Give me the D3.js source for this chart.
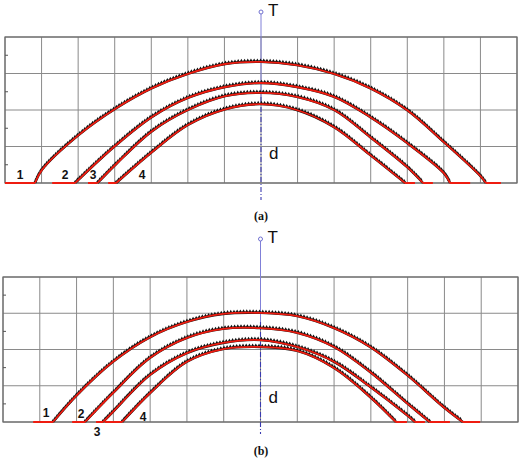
<!DOCTYPE html>
<html><head><meta charset="utf-8">
<script src="https://cdn.jsdelivr.net/npm/d3@7"></script>
<style>body{margin:0;background:#fff}</style></head>
<body>
<svg id="c" width="520" height="458"></svg>
<script>
// ---- data (x in grid units, centre at 0; y in grid units) ----
const xGrid = [-7,-6,-5,-4,-3,-2,-1,0,1,2,3,4,5,6,7];
const yGrid = [0,1,2,3,4];
const yMinor = [0.5,1.5,2.5,3.5];
const curveLabels = ["1","2","3","4"];
const panelNames = ["(a)","(b)"];

// panel (a) curves
const a1 = [[-6.18,0],[-5.99,0.36],[-4.98,1.32],[-3.96,2.05],[-2.98,2.60],[-2.0,2.99],[-0.98,3.26],[0,3.32],[0.98,3.23],[2.0,2.99],[2.98,2.60],[3.99,2.00],[5.0,1.12],[5.99,0.20],[6.15,0]];
const a2 = [[-5.08,0],[-4.98,0.10],[-3.96,1.04],[-2.98,1.81],[-2.0,2.33],[-0.98,2.63],[0,2.74],[0.98,2.63],[2.0,2.36],[2.98,1.81],[3.99,1.10],[5.0,0.27],[5.17,0]];
const a3 = [[-4.47,0],[-3.96,0.52],[-2.98,1.42],[-2.0,2.0],[-0.98,2.38],[0,2.47],[0.98,2.36],[2.0,2.00],[2.98,1.26],[3.99,0.44],[4.43,0]];
const a4 = [[-3.96,0],[-2.98,0.85],[-2.0,1.59],[-0.98,2.02],[0,2.16],[0.98,2.00],[2.0,1.53],[2.98,0.77],[3.94,0]];
// red flat baseline pieces: [leftStart, leftEnd, rightStart, rightEnd]
const aFlats = [[-7,-6.18,6.15,6.56],[-5.71,-5.08,5.17,5.72],[-4.73,-4.47,4.43,4.70],[-4.18,-3.96,3.94,4.21]];
const aLabelPos = [[-6.59,0.11],[-5.36,0.11],[-4.59,0.11],[-3.25,0.11]];

// panel (b) curves
const b1 = [[-5.64,0],[-4.99,0.74],[-4.01,1.66],[-3.0,2.34],[-2.0,2.76],[-1.02,2.98],[0,3.01],[1.0,2.92],[2.0,2.59],[2.98,2.07],[3.98,1.30],[4.99,0.40],[5.50,0]];
const b2 = [[-4.77,0],[-4.01,0.80],[-3.0,1.77],[-2.0,2.32],[-1.02,2.57],[0,2.59],[1.0,2.46],[2.0,2.07],[2.98,1.38],[3.98,0.52],[4.60,0]];
const b3 = [[-4.28,0],[-4.01,0.28],[-3.0,1.30],[-2.0,1.90],[-1.02,2.18],[0,2.26],[1.0,2.07],[2.0,1.66],[2.98,0.97],[3.98,0.19],[4.20,0]];
const b4 = [[-3.76,0],[-3.0,0.80],[-2.0,1.66],[-1.02,2.01],[0,2.07],[1.0,1.96],[2.0,1.49],[2.98,0.69],[3.68,0]];
const bFlats = [[-6.18,-5.64,5.50,5.97],[-5.12,-4.77,4.60,5.15],[-4.47,-4.28,4.20,4.47],[-4.23,-3.76,3.68,3.98]];
const bLabelPos = [[-5.83,0.14],[-4.88,0.11],[-4.44,-0.39],[-3.19,0.03]];

// ---- drawing ----
const svg = d3.select("#c");
const panels = [
  {curves:[a1,a2,a3,a4], flats:aFlats, labels:aLabelPos, name:panelNames[0],
   x:d3.scaleLinear().domain([-7,7]).range([5,517]),
   y:d3.scaleLinear().domain([0,4]).range([183,37]),
   axisTop:12, axisSolidEnd:97, axisBottom:200, tY:16, dY:159, capY:220},
  {curves:[b1,b2,b3,b4], flats:bFlats, labels:bLabelPos, name:panelNames[1],
   x:d3.scaleLinear().domain([-7,7]).range([3,518]),
   y:d3.scaleLinear().domain([0,4]).range([422,277]),
   axisTop:239, axisSolidEnd:322, axisBottom:434, tY:243, dY:403, capY:455}
];

panels.forEach(p => {
  const g = svg.append("g");
  const x = p.x, y = p.y;
  // grid
  g.selectAll(".vg").data(xGrid).join("line")
    .attr("x1", d=>x(d)).attr("x2", d=>x(d)).attr("y1", y(0)).attr("y2", y(4))
    .attr("stroke", "#8a8a8a").attr("stroke-width", 1);
  g.selectAll(".hg").data(yGrid).join("line")
    .attr("x1", x(-7)).attr("x2", x(7)).attr("y1", d=>y(d)).attr("y2", d=>y(d))
    .attr("stroke", "#8a8a8a").attr("stroke-width", 1);
  g.append("rect").attr("x", x(-7)).attr("y", y(4))
    .attr("width", x(7)-x(-7)).attr("height", y(0)-y(4))
    .attr("fill","none").attr("stroke","#6a6a6a").attr("stroke-width",1.2);
  g.selectAll(".mt").data(yMinor).join("line")
    .attr("x1", x(-7)).attr("x2", x(-7)+3).attr("y1", d=>y(d)).attr("y2", d=>y(d))
    .attr("stroke","#555").attr("stroke-width",1);

  // T axis
  const cx = x(0);
  g.append("line").attr("x1",cx).attr("x2",cx).attr("y1",p.axisTop).attr("y2",p.axisSolidEnd)
    .attr("stroke","#8080d8").attr("stroke-width",1);
  g.append("line").attr("x1",cx).attr("x2",cx).attr("y1",p.axisSolidEnd).attr("y2",p.axisBottom)
    .attr("stroke","#3a3ab0").attr("stroke-width",1.1).attr("stroke-dasharray","5,2,1,2");
  g.append("circle").attr("cx",cx).attr("cy",p.axisTop).attr("r",2)
    .attr("fill","#fff").attr("stroke","#7070d0").attr("stroke-width",1);
  g.append("text").attr("x",cx+7).attr("y",p.tY).text("T")
    .attr("font-family","Liberation Sans, Arial, sans-serif").attr("font-size",17).attr("fill","#111");
  g.append("text").attr("x",cx+8).attr("y",p.dY).text("d")
    .attr("font-family","Liberation Sans, Arial, sans-serif").attr("font-size",17).attr("fill","#111");

  const line = d3.line().x(d=>x(d[0])).y(d=>y(d[1])).curve(d3.curveCatmullRom.alpha(0.5));

  p.curves.forEach((c, i) => {
    // black measured band
    const bp = g.append("path").attr("d", line(c)).attr("fill","none")
      .attr("stroke","#111").attr("stroke-width",2.4);
    const node = bp.node();
    const L = node.getTotalLength();
    const pts = d3.range(0, L, 3.2).map(l => node.getPointAtLength(l));
    g.selectAll(null).data(pts).join("path")
      .attr("d", d3.symbol(d3.symbolTriangle, 5.5)())
      .attr("transform", d => `translate(${d.x},${d.y-1.3})`)
      .attr("fill","#111");
  });
  p.curves.forEach((c, i) => {
    g.append("path").attr("d", line(c)).attr("fill","none")
      .attr("stroke","#ee1c10").attr("stroke-width",1.8);
    const f = p.flats[i];
    [[f[0],f[1]],[f[2],f[3]]].forEach(s => {
      g.append("line").attr("x1",x(s[0])).attr("x2",x(s[1])).attr("y1",y(0)).attr("y2",y(0))
        .attr("stroke","#ee1c10").attr("stroke-width",2);
    });
  });
  g.selectAll(".lab").data(p.labels).join("text")
    .attr("x", d=>x(d[0])).attr("y", d=>y(d[1]))
    .attr("text-anchor","middle")
    .attr("font-family","Liberation Sans, Arial, sans-serif").attr("font-weight","bold")
    .attr("font-size",12).attr("fill","#111")
    .text((d,i)=>curveLabels[i]);

  g.append("text").attr("x",261).attr("y",p.capY).attr("text-anchor","middle")
    .attr("font-family","Liberation Serif, Times New Roman, serif").attr("font-weight","bold")
    .attr("font-size",12).attr("fill","#111").text(p.name);
});
</script>
</body></html>
